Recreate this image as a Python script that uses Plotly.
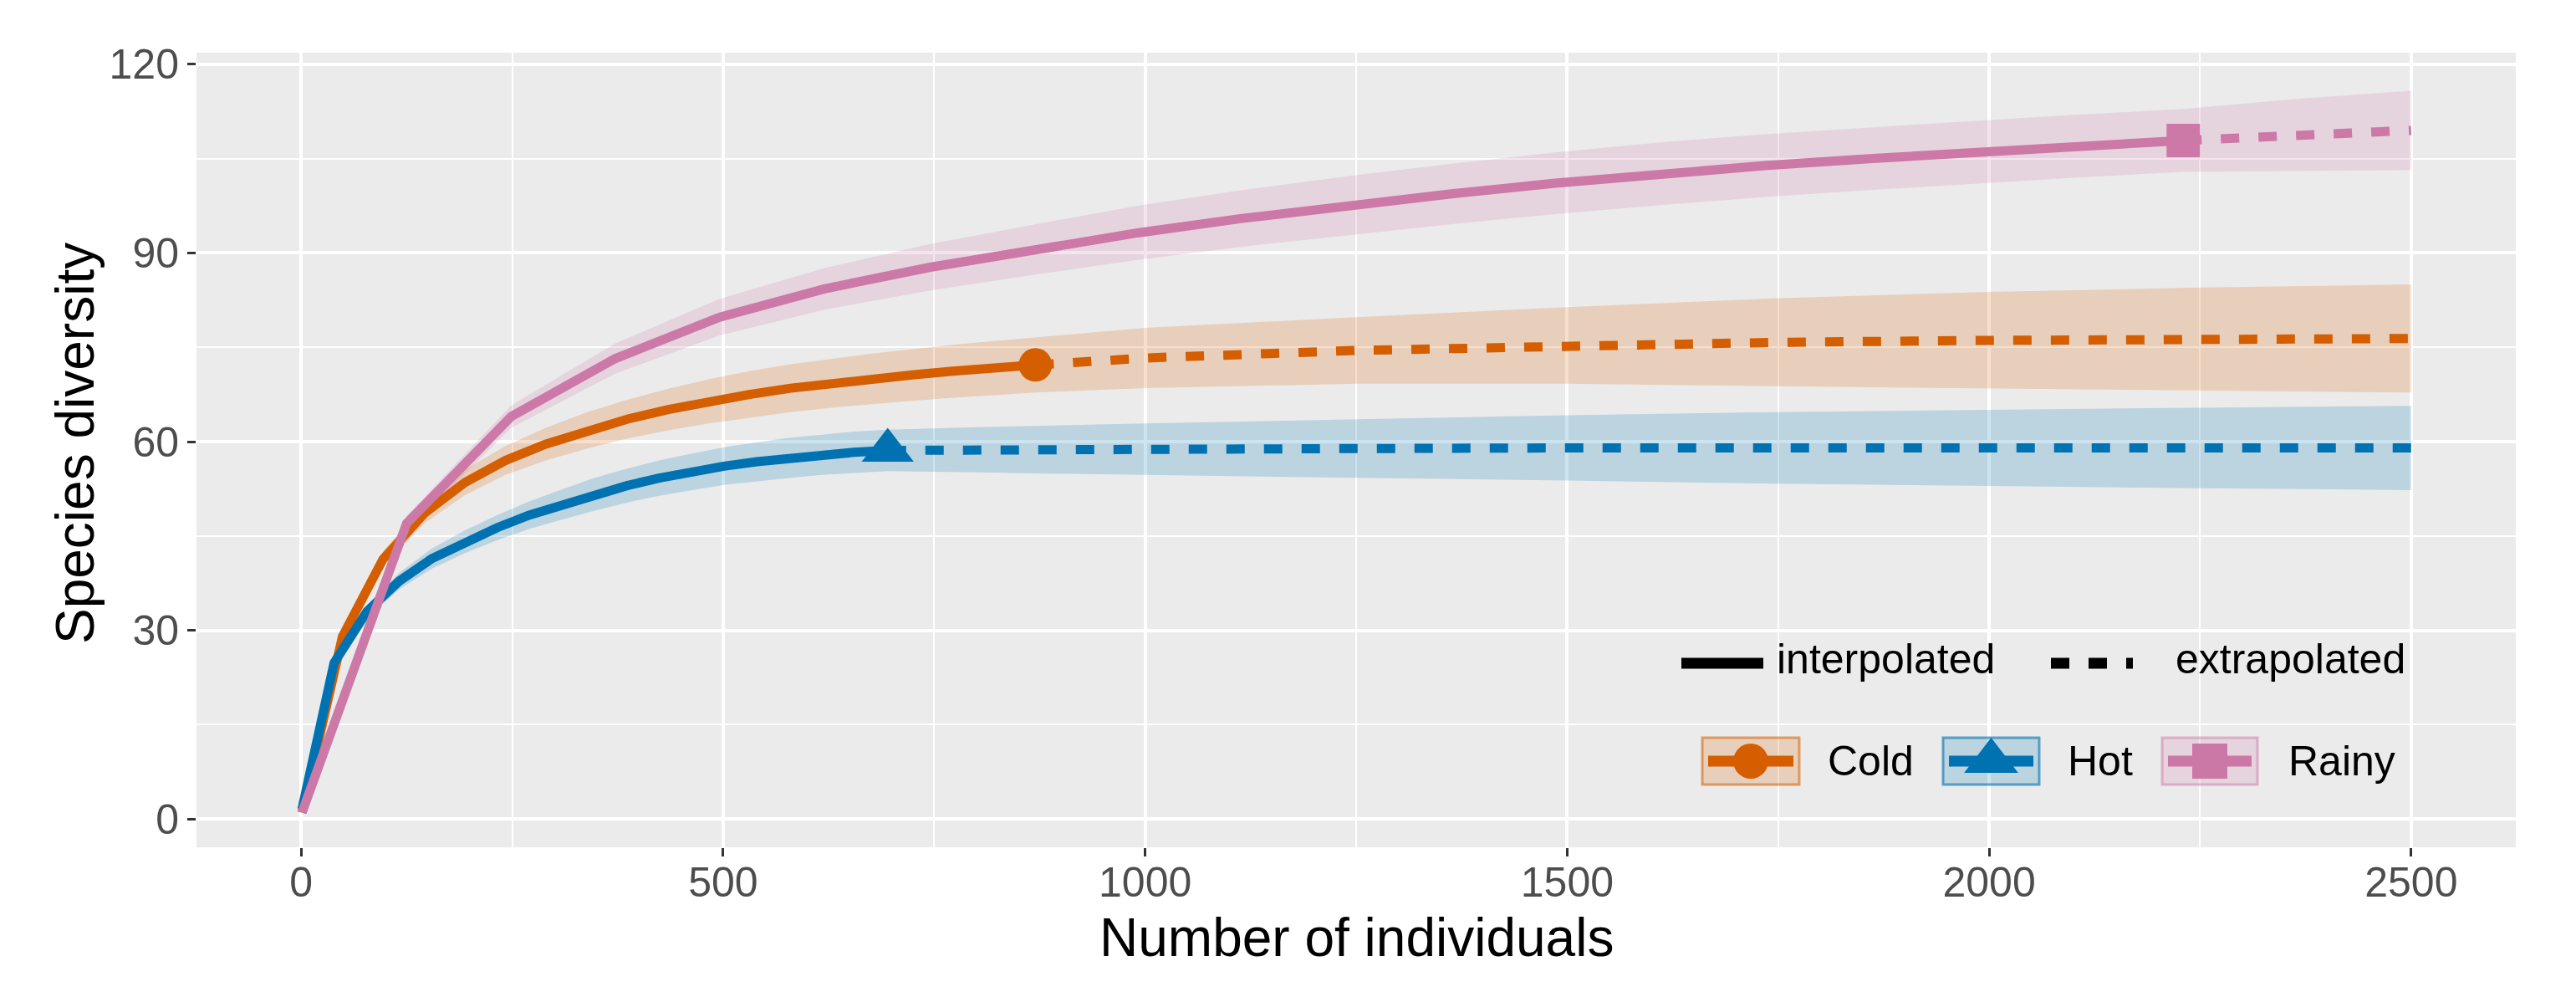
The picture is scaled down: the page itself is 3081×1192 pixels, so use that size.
import plotly.graph_objects as go

# ---------------- data ----------------
# Cold assemblage (n = 870)
cold_int_x = [1, 49, 97, 146, 194, 242, 290, 339, 387, 435, 483, 531, 580, 628, 676, 724, 772, 821, 870]
cold_int_y = [1, 29.0, 41.3, 48.6, 53.5, 57.0, 59.6, 61.8, 63.6, 65.1, 66.4, 67.5, 68.5, 69.3, 70.0, 70.6, 71.2, 71.7, 72.2]
cold_int_lo = [1, 28.2, 40.1, 47.0, 51.5, 54.7, 57.0, 58.9, 60.5, 61.8, 62.9, 63.8, 64.7, 65.4, 66.0, 66.5, 67.0, 67.4, 67.8]
cold_int_hi = [1, 29.8, 42.5, 50.2, 55.5, 59.3, 62.2, 64.7, 66.7, 68.4, 69.9, 71.2, 72.3, 73.2, 74.0, 74.7, 75.4, 76.0, 76.6]
cold_ext_x = [870, 1000, 1250, 1500, 1750, 2000, 2250, 2500]
cold_ext_y = [72.2, 73.3, 74.5, 75.3, 75.8, 76.1, 76.3, 76.4]
cold_ext_lo = [67.8, 68.5, 69.2, 69.2, 68.8, 68.4, 68.1, 67.8]
cold_ext_hi = [76.6, 78.1, 79.8, 81.4, 82.8, 83.8, 84.5, 85.0]

# Hot assemblage (n = 695)
hot_int_x = [1, 39, 78, 116, 155, 193, 232, 270, 309, 347, 386, 424, 463, 501, 540, 578, 617, 655, 695]
hot_int_y = [1.5, 24.8, 33.0, 37.8, 41.4, 44.0, 46.3, 48.3, 50.0, 51.6, 53.0, 54.2, 55.2, 56.1, 56.8, 57.4, 57.9, 58.3, 58.6]
hot_int_lo = [1.5, 24.2, 32.0, 36.5, 39.8, 42.2, 44.3, 46.1, 47.6, 49.0, 50.3, 51.4, 52.3, 53.1, 53.7, 54.2, 54.7, 55.0, 55.3]
hot_int_hi = [1.5, 25.4, 34.0, 39.1, 43.0, 45.8, 48.3, 50.5, 52.4, 54.2, 55.7, 57.0, 58.1, 59.1, 59.9, 60.6, 61.1, 61.6, 61.9]
hot_ext_x = [695, 800, 1000, 1250, 1500, 1750, 2000, 2250, 2500]
hot_ext_y = [58.6, 58.7, 58.8, 58.9, 59.0, 59.0, 59.0, 59.0, 59.0]
hot_ext_lo = [55.3, 55.1, 54.7, 54.2, 53.8, 53.3, 52.9, 52.6, 52.3]
hot_ext_hi = [61.9, 62.3, 62.9, 63.6, 64.2, 64.7, 65.1, 65.4, 65.7]

# Rainy assemblage (n = 2230)
rainy_int_x = [1, 125, 249, 372, 496, 620, 744, 867, 991, 1115, 1239, 1363, 1486, 1610, 1734, 1858, 1981, 2105, 2230]
rainy_int_y = [1, 47.0, 64.0, 73.2, 79.8, 84.3, 87.7, 90.5, 93.2, 95.5, 97.5, 99.4, 101.1, 102.6, 103.9, 105.0, 106.0, 107.0, 107.9]
rainy_int_lo = [1, 45.8, 62.2, 70.8, 76.9, 81.0, 84.0, 86.5, 88.9, 91.0, 92.8, 94.6, 96.2, 97.6, 98.9, 100.0, 101.0, 102.0, 102.9]
rainy_int_hi = [1, 48.2, 65.8, 75.6, 82.7, 87.6, 91.4, 94.5, 97.5, 100.0, 102.2, 104.2, 106.0, 107.6, 108.9, 110.0, 111.0, 112.0, 112.9]
rainy_ext_x = [2230, 2365, 2500]
rainy_ext_y = [107.9, 108.8, 109.5]
rainy_ext_lo = [102.9, 103.1, 103.2]
rainy_ext_hi = [112.9, 114.5, 115.8]

assemblages = ["Cold", "Hot", "Rainy"]
x_ticks = [0, 500, 1000, 1500, 2000, 2500]
y_ticks = [0, 30, 60, 90, 120]
x_title = "Number of individuals"
y_title = "Species diversity"
method_labels = ["interpolated", "extrapolated"]

# ---------------- styles ----------------
COL = {"Cold": "#D55E00", "Hot": "#0072B2", "Rainy": "#CC79A7"}
FILL = {"Cold": "rgba(213,94,0,0.2)", "Hot": "rgba(0,114,178,0.2)", "Rainy": "rgba(204,121,167,0.2)"}
EDGE = {"Cold": "rgba(213,94,0,0.55)", "Hot": "rgba(0,114,178,0.6)", "Rainy": "rgba(204,121,167,0.5)"}
SYM = {"Cold": "circle", "Hot": "triangle-up", "Rainy": "square"}
MSIZE = {"Cold": 40, "Hot": 54, "Rainy": 40}
LW = 11
DASH = "22px,23px"
FONT = "Liberation Sans, Arial, Helvetica, sans-serif"

series = {
    "Cold": (cold_int_x, cold_int_y, cold_int_lo, cold_int_hi, cold_ext_x, cold_ext_y, cold_ext_lo, cold_ext_hi),
    "Hot": (hot_int_x, hot_int_y, hot_int_lo, hot_int_hi, hot_ext_x, hot_ext_y, hot_ext_lo, hot_ext_hi),
    "Rainy": (rainy_int_x, rainy_int_y, rainy_int_lo, rainy_int_hi, rainy_ext_x, rainy_ext_y, rainy_ext_lo, rainy_ext_hi),
}

W, H = 3081, 1192
L, R, T, B = 235, 72, 63, 179
PX0, PX1 = L, W - R          # plot area in page pixels
PY0, PY1 = T, H - B


def paper_x(px):
    return (px - PX0) / (PX1 - PX0)


def paper_y(py):
    return (PY1 - py) / (PY1 - PY0)


fig = go.Figure()

# ribbons
for name in assemblages:
    ix, iy, ilo, ihi, ex, ey, elo, ehi = series[name]
    bx = ix + ex[1:]
    blo = ilo + elo[1:]
    bhi = ihi + ehi[1:]
    fig.add_trace(go.Scatter(x=bx + bx[::-1], y=bhi + blo[::-1], fill="toself",
                             fillcolor=FILL[name], line=dict(width=0), mode="lines",
                             hoverinfo="skip", showlegend=False))
# interpolated (solid) and extrapolated (dashed)
for name in assemblages:
    ix, iy, ilo, ihi, ex, ey, elo, ehi = series[name]
    fig.add_trace(go.Scatter(x=ix, y=iy, mode="lines", line=dict(color=COL[name], width=LW),
                             name=name, showlegend=False))
    fig.add_trace(go.Scatter(x=ex, y=ey, mode="lines",
                             line=dict(color=COL[name], width=LW, dash=DASH),
                             name=name, showlegend=False))
# observed points
for name in assemblages:
    ix, iy = series[name][0], series[name][1]
    fig.add_trace(go.Scatter(x=[ix[-1]], y=[iy[-1]], mode="markers",
                             marker=dict(symbol=SYM[name], size=MSIZE[name], color=COL[name], line=dict(width=0)),
                             showlegend=False))

# ---------------- custom legend on a pixel-space overlay axis ----------------
ROW1_Y, ROW2_Y = 793, 910
BOX_TOP, BOX_BOT = 882, 938
leg_lines = [(2011, 2109, None), (2453, 2551, DASH)]
leg_text1 = [2123, 2600]
boxes = {"Cold": (2036, 2152), "Hot": (2324, 2439), "Rainy": (2586, 2700)}
box_text = {"Cold": 2184, "Hot": 2471, "Rainy": 2735}
LEG_FONT = 50

annotations = []
shapes = []
for (x0, x1, dash), lab, tx in zip(leg_lines, method_labels, leg_text1):
    fig.add_trace(go.Scatter(x=[x0, x1], y=[ROW1_Y, ROW1_Y], xaxis="x2", yaxis="y2", mode="lines",
                             line=dict(color="black", width=13, dash=dash if dash else "solid"),
                             showlegend=False, hoverinfo="skip"))
    annotations.append(dict(x=tx, y=788, xref="x2", yref="y2", text=lab, showarrow=False,
                            xanchor="left", yanchor="middle", font=dict(size=LEG_FONT, color="black", family=FONT)))
for name in assemblages:
    x0, x1 = boxes[name]
    shapes.append(dict(type="rect", xref="x2", yref="y2", x0=x0, x1=x1, y0=BOX_TOP, y1=BOX_BOT,
                       fillcolor=FILL[name], line=dict(color=EDGE[name], width=3), layer="above"))
    fig.add_trace(go.Scatter(x=[x0 + 7, x1 - 7], y=[ROW2_Y, ROW2_Y], xaxis="x2", yaxis="y2", mode="lines",
                             line=dict(color=COL[name], width=13), showlegend=False, hoverinfo="skip"))
    fig.add_trace(go.Scatter(x=[(x0 + x1) / 2], y=[ROW2_Y], xaxis="x2", yaxis="y2", mode="markers",
                             marker=dict(symbol=SYM[name], size=MSIZE[name] + 2, color=COL[name], line=dict(width=0)),
                             showlegend=False, hoverinfo="skip"))
    annotations.append(dict(x=box_text[name], y=910, xref="x2", yref="y2", text=name, showarrow=False,
                            xanchor="left", yanchor="middle", font=dict(size=LEG_FONT, color="black", family=FONT)))

# axis titles (paper coordinates, outside the plot area)
annotations.append(dict(x=0.5, y=paper_y(1121), xref="paper", yref="paper", text=x_title, showarrow=False,
                        xanchor="center", yanchor="middle", font=dict(size=64, color="black", family=FONT)))
annotations.append(dict(x=paper_x(90), y=paper_y(530), xref="paper", yref="paper", text=y_title,
                        showarrow=False, textangle=-90,
                        xanchor="center", yanchor="middle", font=dict(size=64, color="black", family=FONT)))

axis_common = dict(showline=False, zeroline=False, showgrid=True, gridcolor="white", gridwidth=4,
                   ticks="outside", ticklen=10, tickwidth=2.5, tickcolor="#333333",
                   tickfont=dict(size=50, color="#4D4D4D", family=FONT))

fig.update_layout(
    width=W, height=H,
    margin=dict(l=L, r=R, t=T, b=B, pad=0),
    paper_bgcolor="white", plot_bgcolor="#EBEBEB",
    showlegend=False,
    xaxis=dict(range=[-124, 2624], tickvals=x_ticks, ticktext=[str(v) for v in x_ticks],
               minor=dict(dtick=250, tick0=0, showgrid=True, gridcolor="white", gridwidth=2, ticks=""),
               ticklabelstandoff=-12,
               **axis_common),
    yaxis=dict(range=[-4.52, 121.86], tickvals=y_ticks, ticktext=[str(v) for v in y_ticks],
               minor=dict(dtick=15, tick0=0, showgrid=True, gridcolor="white", gridwidth=2, ticks=""),
               **axis_common),
    xaxis2=dict(overlaying="x", anchor="y2", range=[PX0, PX1], visible=False, showgrid=False, zeroline=False),
    yaxis2=dict(overlaying="y", anchor="x2", range=[PY1, PY0], visible=False, showgrid=False, zeroline=False),
    annotations=annotations,
    shapes=shapes,
)

fig.write_html("out.html")
